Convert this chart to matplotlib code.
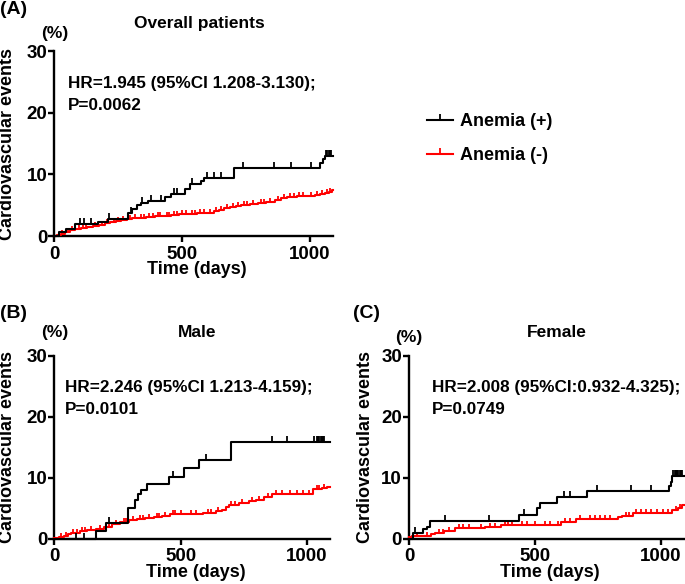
import numpy as np
import matplotlib
matplotlib.use("Agg")
import matplotlib.pyplot as plt
from matplotlib.lines import Line2D

plt.rcParams['font.family'] = ['Liberation Sans', 'DejaVu Sans']
plt.rcParams['font.weight'] = 'bold'
plt.rcParams['font.size'] = 13

# ---- data ----
# (A) overall patients
a_pos_t = [0, 18, 45, 80, 170, 210, 290, 306, 325, 340, 367, 434, 458, 513, 531, 574, 588, 706, 1040, 1053, 1060]
a_pos_y = [0, 0.7, 1.2, 1.9, 2.3, 2.8, 3.8, 4.3, 5.0, 5.4, 5.6, 6.3, 6.8, 7.6, 8.4, 9.0, 9.4, 11.1, 11.8, 12.5, 12.9]
a_pos_cens = [100, 117, 143, 215, 300, 345, 380, 420, 470, 480, 540, 600, 626, 652, 738, 862, 928, 1007,
              1065, 1070, 1075, 1080, 1085]
a_neg_t = [0, 10, 25, 40, 60, 80, 105, 130, 150, 175, 197, 220, 240, 262, 285, 305, 327, 360, 393, 425, 459,
           490, 524, 560, 600, 625, 645, 666, 690, 710, 731, 765, 797, 830, 863, 890, 910, 950, 994, 1020,
           1040, 1060, 1075, 1088]
a_neg_y = [0, 0.2, 0.4, 0.7, 0.9, 1.1, 1.25, 1.4, 1.6, 1.8, 2.05, 2.25, 2.4, 2.6, 2.75, 2.9, 3.0, 3.1, 3.2,
           3.3, 3.4, 3.5, 3.55, 3.65, 3.8, 4.0, 4.2, 4.5, 4.7, 4.85, 5.0, 5.15, 5.3, 5.5, 5.8, 6.1, 6.3, 6.45,
           6.5, 6.7, 6.85, 7.0, 7.2, 7.4]
a_neg_cens = [30, 52, 70, 95, 112, 125, 160, 185, 205, 232, 250, 270, 295, 315, 340, 350, 372, 385, 405, 415,
              440, 450, 470, 480, 500, 515, 540, 550, 570, 585, 610, 635, 655, 675, 700, 720, 745, 755, 780,
              810, 820, 845, 875, 900, 925, 940, 960, 975, 1005, 1030, 1050, 1068, 1080]

# (B) male
b_pos_t = [0, 167, 206, 290, 321, 333, 343, 366, 455, 514, 574, 700]
b_pos_y = [0, 1.3, 2.6, 5.0, 6.4, 7.4, 8.0, 8.9, 10.2, 11.6, 13.0, 15.9]
b_pos_cens = [85, 118, 215, 470, 600, 862, 921, 1030, 1040, 1045, 1050, 1055, 1060, 1065, 1070]
b_neg_t = [0, 20, 39, 55, 65, 100, 131, 165, 197, 230, 262, 295, 327, 360, 393, 425, 459, 590, 640, 666,
           680, 692, 731, 770, 797, 830, 863, 1026, 1060, 1080]
b_neg_y = [0.1, 0.3, 0.45, 0.8, 1.0, 1.2, 1.4, 1.6, 1.9, 2.4, 2.8, 3.0, 3.2, 3.4, 3.6, 3.8, 4.0, 4.2, 4.5,
           4.7, 5.2, 5.6, 5.9, 6.2, 6.4, 6.9, 7.3, 8.1, 8.3, 8.5]
b_neg_cens = [25, 45, 75, 90, 110, 120, 145, 180, 215, 245, 275, 285, 310, 340, 350, 375, 405, 415, 440,
              470, 480, 500, 540, 560, 610, 620, 650, 700, 715, 745, 785, 810, 845, 880, 900, 935, 960, 985,
              1010, 1040, 1050, 1070]

# (C) female
c_pos_t = [0, 17, 55, 72, 85, 438, 507, 522, 588, 708, 1033, 1040, 1046]
c_pos_y = [0, 1.0, 1.6, 2.0, 2.9, 3.9, 5.0, 5.9, 6.8, 7.8, 8.6, 9.3, 10.3]
c_pos_cens = [25, 144, 317, 455, 615, 641, 748, 880, 960, 1050, 1055, 1060, 1065, 1070, 1075, 1080, 1085]
c_neg_t = [0, 10, 60, 87, 102, 140, 182, 270, 302, 365, 602, 662, 695, 828, 847, 889, 1046, 1070, 1085]
c_neg_y = [0.2, 0.4, 0.5, 0.7, 1.0, 1.3, 1.7, 1.8, 2.0, 2.3, 2.8, 3.2, 3.3, 3.6, 3.8, 4.3, 4.7, 5.1, 5.5]
c_neg_cens = [30, 70, 120, 135, 160, 200, 215, 240, 285, 320, 340, 380, 395, 410, 450, 470, 500, 540, 560,
              590, 620, 640, 680, 720, 740, 760, 780, 800, 860, 875, 900, 920, 940, 960, 985, 1010, 1030,
              1060, 1075]

titles = ["Overall patients", "Male", "Female"]
panel_tags = ["(A)", "(B)", "(C)"]
hr_lines = [("HR=1.945 (95%CI 1.208-3.130);", "P=0.0062"),
            ("HR=2.246 (95%CI 1.213-4.159);", "P=0.0101"),
            ("HR=2.008 (95%CI:0.932-4.325);", "P=0.0749")]
legend_labels = ["Anemia (+)", "Anemia (-)"]
x_end = 1092


def draw_km(ax, t, y, cens, color, ms):
    tt = list(t) + [x_end]
    yy = list(y) + [y[-1]]
    ax.step(tt, yy, where='post', color=color, lw=1.5, clip_on=False, zorder=3)
    idx = np.searchsorted(t, cens, side='right') - 1
    cy = np.array(y)[idx]
    ax.plot(cens, cy, ls='none', marker=2, ms=ms, mew=1.3, color=color, clip_on=False, zorder=3)


def style(ax):
    ax.set_xlim(0, x_end)
    ax.set_ylim(0, 30)
    ax.set_xticks([0, 500, 1000])
    ax.set_yticks([0, 10, 20, 30])
    for s in ['top', 'right']:
        ax.spines[s].set_visible(False)
    for s in ['left', 'bottom']:
        ax.spines[s].set_linewidth(1.7)
    ax.tick_params(width=1.7, length=4, labelsize=13.5)
    ax.tick_params(axis='x', pad=3)
    ax.tick_params(axis='y', pad=1)


fig = plt.figure(figsize=(6.85, 5.84), dpi=100)
W, H = 685, 584

# axes boxes in pixels: left, top, right, bottom
boxes = [(54.3, 51, 333, 236), (54.3, 356, 330, 538.7), (409, 356, 684, 538.7)]
axes = []
for (l, tp, r, b) in boxes:
    axes.append(fig.add_axes([l / W, 1 - b / H, (r - l) / W, (b - tp) / H]))

series = [(a_pos_t, a_pos_y, a_pos_cens, a_neg_t, a_neg_y, a_neg_cens),
          (b_pos_t, b_pos_y, b_pos_cens, b_neg_t, b_neg_y, b_neg_cens),
          (c_pos_t, c_pos_y, c_pos_cens, c_neg_t, c_neg_y, c_neg_cens)]

hr_x = [55, 42, 92]
title_pos = [(0.52, 1.15), (0.517, 1.126), (0.537, 1.126)]
pct_y = [1.097, 1.126, 1.10]
tag_pos = [(0, 10), (0, 313), (353, 313)]
ylab_x = [8, 8, 365]

for i, ax in enumerate(axes):
    pt, py, pc, nt, ny, nc = series[i]
    draw_km(ax, nt, ny, nc, '#ff0000', 3)
    draw_km(ax, pt, py, pc, 'black', 4)
    style(ax)
    ax.text(hr_x[i], 24.8, hr_lines[i][0], fontsize=12.3, fontweight='bold', va='center')
    ax.text(hr_x[i], 21.2, hr_lines[i][1], fontsize=12.3, fontweight='bold', va='center')
    ax.text(title_pos[i][0], title_pos[i][1], titles[i], transform=ax.transAxes,
            ha='center', va='center', fontsize=12.5, fontweight='bold')
    ax.text(0.0, pct_y[i], "(%)", transform=ax.transAxes, ha='center', va='center',
            fontsize=12.5, fontweight='bold')
    l, tp, r, b = boxes[i]
    fig.text((l + r) / 2 / W + 0.005, 1 - (b + 34) / H, "Time (days)", ha='center', va='center',
             fontsize=13, fontweight='bold')
    fig.text(ylab_x[i] / W, 1 - (tp + b) / 2 / H, "Cardiovascular events", rotation=90,
             ha='center', va='center', fontsize=13, fontweight='bold')
    fig.text(tag_pos[i][0] / W, 1 - tag_pos[i][1] / H, panel_tags[i], ha='left', va='center',
             fontsize=14, fontweight='bold')

handles = [Line2D([0], [0], color='black', lw=1.5, marker=2, ms=4, mew=1.3),
           Line2D([0], [0], color='#ff0000', lw=1.5, marker=2, ms=4, mew=1.3)]
fig.legend(handles, legend_labels, loc='upper left', bbox_to_anchor=(427 / W, 1 - 113 / H),
           frameon=False, numpoints=1, handlelength=1.45, handletextpad=0.4, labelspacing=0.95,
           borderpad=0, borderaxespad=0, prop={'size': 13, 'weight': 'bold'})

fig.savefig("out.png", dpi=100)
